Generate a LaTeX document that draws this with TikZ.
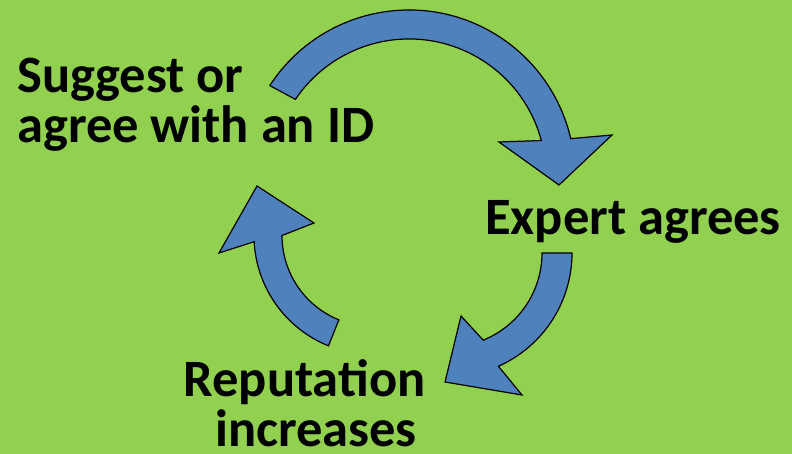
\documentclass[tikz,border=0pt]{standalone}
\usepackage{fontspec}
\setmainfont{Carlito}
\usetikzlibrary{calc}
\definecolor{bg}{HTML}{92D050}
\definecolor{arrowblue}{HTML}{4F81BD}
\tikzset{
  cyclearrow/.style={fill=arrowblue, draw=black, line width=1.2pt, line join=miter},
  label/.style={font=\bfseries\fontsize{52.5}{50.3}\selectfont, inner sep=0pt, align=left, text=black}
}
\begin{document}
\begin{tikzpicture}[x=1pt,y=1pt]
\fill[bg] (0,0) rectangle (792,454);
\useasboundingbox (0,0) rectangle (792,454);
% top arrow
\draw[cyclearrow] (409,278) ++(147:166) arc[start angle=147, end angle=13, radius=166]
  -- (612,319) -- (559,269) -- (499,312)
  -- ($(409,278)+(15:137)$) arc[start angle=15, end angle=146, radius=137] -- cycle;
% right arrow
\draw[cyclearrow] (572,201) arc[start angle=0, end angle=-66, radius=124]
  -- (522,59) -- (445,72) -- (461,138)
  -- ($(448,201)+(-68:94)$) arc[start angle=-68, end angle=0, radius=94] -- cycle;
% left arrow
\draw[cyclearrow] (373,218.5) ++(248:119) arc[start angle=248, end angle=183, radius=119]
  -- (219,201) -- (257,268) -- (314,231)
  -- ($(373,218.5)+(180:91)$) arc[start angle=180, end angle=248, radius=91] -- cycle;
\node[label, anchor=base west] (suggest) at (17,311.5) {Suggest or\\agree with an ID};
\node[label, anchor=base west] (expert) at (485,219.7) {Expert agrees};
\node[label, align=center, anchor=base] (rep) at (316,7) {Reputation\hspace*{23pt}\\increases};
\end{tikzpicture}
\end{document}
